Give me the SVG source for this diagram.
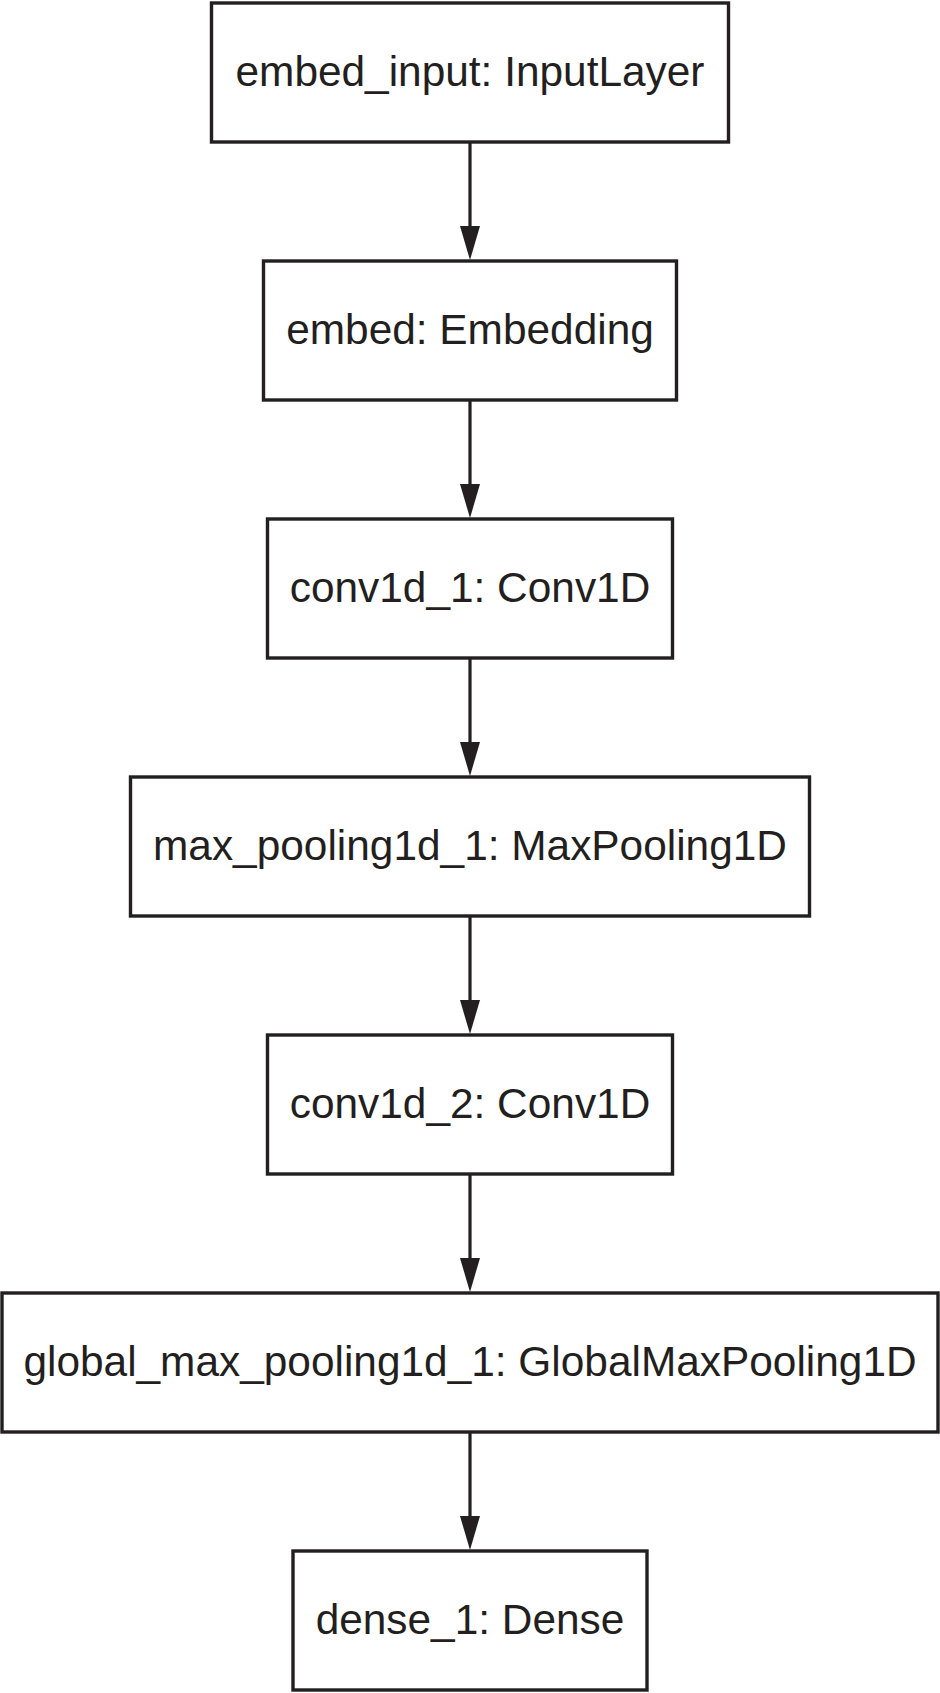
<svg xmlns="http://www.w3.org/2000/svg" width="940" height="1693" viewBox="0 0 940 1693">
<style>
.box{fill:#fff;stroke:#231f20;stroke-width:3.4}
.lbl{font-family:"Liberation Sans",Arial,sans-serif;font-size:42.4px;fill:#231f20;text-anchor:middle}
.edge{stroke:#231f20;stroke-width:3.2;fill:none}
.head{fill:#231f20}
</style>
<rect width="940" height="1693" fill="#fff"/>
<g id="connectors">
<line class="edge" x1="470" y1="142" x2="470" y2="228"/><polygon class="head" points="460,226 480,226 470,260"/>
<line class="edge" x1="470" y1="400" x2="470" y2="486"/><polygon class="head" points="460,484 480,484 470,518"/>
<line class="edge" x1="470" y1="658" x2="470" y2="744"/><polygon class="head" points="460,742 480,742 470,776"/>
<line class="edge" x1="470" y1="916" x2="470" y2="1002"/><polygon class="head" points="460,1000 480,1000 470,1034"/>
<line class="edge" x1="470" y1="1174" x2="470" y2="1260"/><polygon class="head" points="460,1258 480,1258 470,1292"/>
<line class="edge" x1="470" y1="1432" x2="470" y2="1518"/><polygon class="head" points="460,1516 480,1516 470,1550"/>
</g>
<g id="embed_input"><rect class="box" x="211.5" y="3" width="517" height="139"/><text class="lbl" x="470" y="86">embed_input: InputLayer</text></g>
<g id="embed"><rect class="box" x="263.5" y="261" width="413" height="139"/><text class="lbl" x="470" y="344">embed: Embedding</text></g>
<g id="conv1d_1"><rect class="box" x="267.5" y="519" width="405" height="139"/><text class="lbl" x="470" y="602">conv1d_1: Conv1D</text></g>
<g id="max_pooling1d_1"><rect class="box" x="130.5" y="777" width="679" height="139"/><text class="lbl" x="470" y="860">max_pooling1d_1: MaxPooling1D</text></g>
<g id="conv1d_2"><rect class="box" x="267.5" y="1035" width="405" height="139"/><text class="lbl" x="470" y="1118">conv1d_2: Conv1D</text></g>
<g id="global_max_pooling1d_1"><rect class="box" x="2" y="1293" width="936" height="139"/><text class="lbl" x="470" y="1376">global_max_pooling1d_1: GlobalMaxPooling1D</text></g>
<g id="dense_1"><rect class="box" x="293" y="1551" width="354" height="139"/><text class="lbl" x="470" y="1634">dense_1: Dense</text></g>
</svg>
